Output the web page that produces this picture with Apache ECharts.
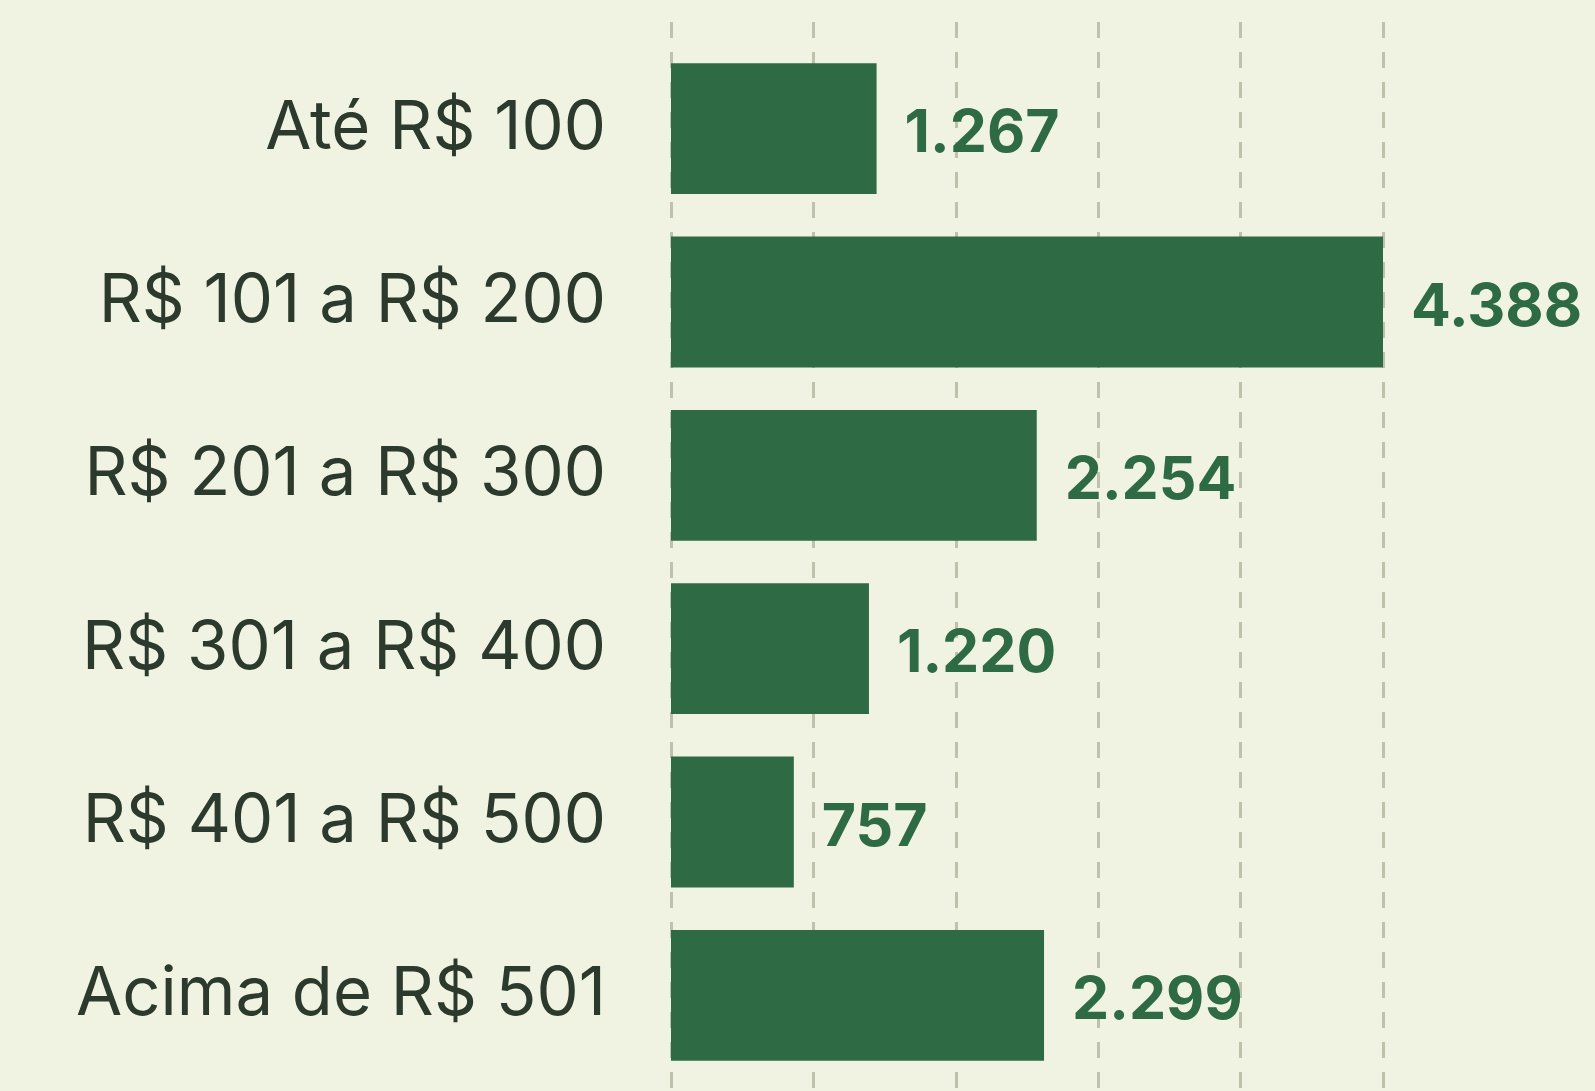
<!DOCTYPE html>
<html>
<head>
<meta charset="utf-8">
<script src="https://cdn.jsdelivr.net/npm/echarts@6/dist/echarts.min.js"></script>
<style>
html, body { margin: 0; padding: 0; background: #f0f3e1; }
#chart { width: 1595px; height: 1091px; }
</style>
</head>
<body>
<div id="chart"></div>
<script>
// faixas de valor e quantidades
var categories = ['Até R$ 100', 'R$ 101 a R$ 200', 'R$ 201 a R$ 300', 'R$ 301 a R$ 400', 'R$ 401 a R$ 500', 'Acima de R$ 501'];
var values = [1267, 4388, 2254, 1220, 757, 2299];
var axisMax = 4388;
var splitCount = 5;

function formatBR(v){
	return String(v).replace(/\B(?=(\d{3})+(?!\d))/g, '.');
}

var chart = echarts.init(document.getElementById('chart'));
var xAxisBase = {
	type: 'value',
	min: 0,
	max: axisMax,
	interval: axisMax / splitCount,
	axisLine: {show: false},
	axisTick: {show: false},
	axisLabel: {show: false}
};
var option = {
	backgroundColor: '#f0f3e1',
	animation: false,
	grid: [
		{left: 671, right: 212, top: 42, bottom: 9},
		//só as linhas tracejadas, vão mais para cima
		{left: 671, right: 212, top: 22, bottom: 0}
	],
	xAxis: [
		Object.assign({gridIndex: 0, splitLine: {show: false}}, xAxisBase),
		Object.assign({gridIndex: 1, splitLine: {show: true, lineStyle: {color: '#bec1ac', width: 3, type: [16, 14]}}}, xAxisBase)
	],
	yAxis: [
		{
			gridIndex: 0,
			type: 'category',
			inverse: true,
			data: categories,
			axisLine: {show: false},
			axisTick: {show: false},
			axisLabel: {
				margin: 65,
				fontSize: 67,
				fontFamily: 'Inter',
				color: '#2b3a2c',
				padding: [6, 0, 0, 0]
			}
		},
		{
			gridIndex: 1,
			type: 'category',
			data: [''],
			show: false
		}
	],
	series: [
		{
			type: 'bar',
			xAxisIndex: 0,
			yAxisIndex: 0,
			data: values,
			barWidth: '75.5%',
			itemStyle: {color: '#2e6b44'},
			z: 3,
			label: {
				show: true,
				position: 'right',
				distance: 28,
				offset: [0, 6],
				fontSize: 59,
				fontWeight: 'bold',
				fontFamily: 'Inter',
				color: '#2e6b44',
				formatter: function(p){ return formatBR(p.value); }
			}
		}
	]
};
chart.setOption(option);
</script>
</body>
</html>
